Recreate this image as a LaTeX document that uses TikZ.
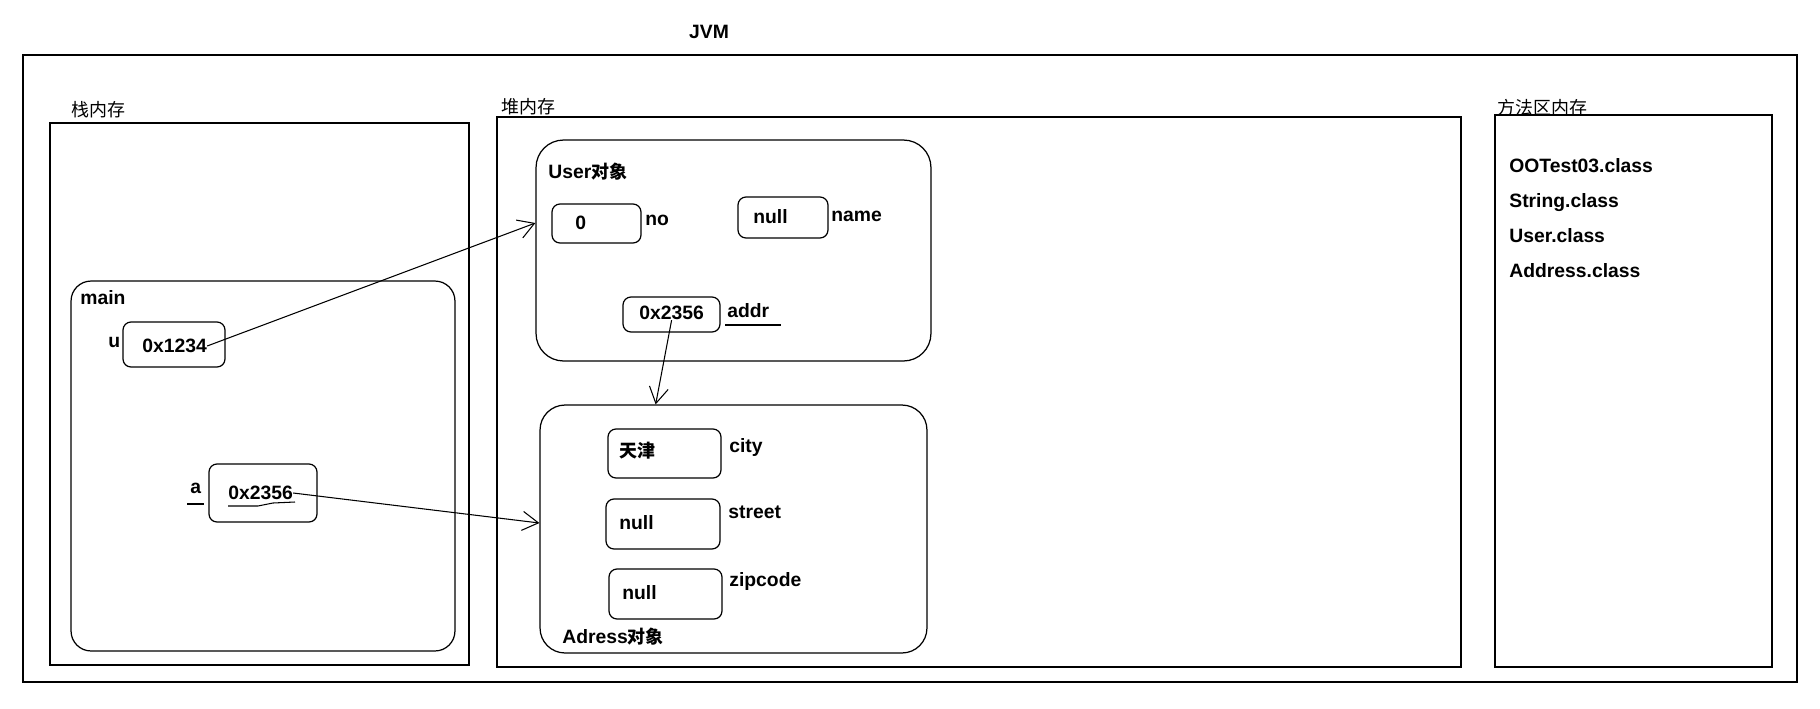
\documentclass[tikz,border=0pt]{standalone}
\usepackage{fontspec}
\setmainfont{Liberation Sans}
\newfontfamily\cjk{Noto Sans CJK SC}[Scale=0.93]
\usetikzlibrary{arrows.meta}

\begin{document}
\begin{tikzpicture}[x=0.02cm,y=-0.02cm,
  area/.style={draw,line width=0.8pt,inner sep=0pt},
  obj/.style={draw,line width=0.7pt,rounded corners=0.55cm,inner sep=0pt},
  cell/.style={draw,line width=0.7pt,rounded corners=0.16cm,inner sep=0pt},
  txt/.style={font=\fontsize{11}{13}\selectfont\bfseries,inner sep=0pt,anchor=west},
  hdr/.style={font=\fontsize{11}{13}\selectfont,inner sep=0pt,anchor=west},
  ref/.style={-{Straight Barb[length=0.32cm,width=0.38cm]},line width=0.6pt}]
\useasboundingbox (0,0) rectangle (1820,708);
% memory areas
\node[area,minimum width=35.48cm,minimum height=12.54cm] (jvm) at (910,368.5) {};
\node[txt,anchor=center] (jvmlbl) at (709,32) {JVM};
\node[area,minimum width=8.38cm,minimum height=10.84cm] (stack) at (259.5,394) {};
\node[hdr] (stacklbl) at (71,110) {\cjk 栈内存};
\node[area,minimum width=19.28cm,minimum height=11cm] (heap) at (979,392) {};
\node[hdr] (heaplbl) at (501,107) {\cjk 堆内存};
\node[area,minimum width=5.54cm,minimum height=11.04cm] (method) at (1633.5,391) {};
\node[hdr] (methodlbl) at (1497,108) {\cjk 方法区内存};
\foreach \cls [count=\i] in {OOTest03,String,User,Address}
  \node[txt,anchor=base west] (cls\i) at (1509,137+35*\i) {\cls.class};
% stack frame
\node[obj,rounded corners=0.4cm,minimum width=7.68cm,minimum height=7.4cm] (main) at (263,466) {};
\node[txt] (mainlbl) at (80,298) {main};
\node[cell,minimum width=2.04cm,minimum height=0.9cm] (ubox) at (174,344.5) {};
\node[txt] (uval) at (142,346) {0x1234};
\node[txt] (ulbl) at (108,342) {u};
\node[cell,minimum width=2.16cm,minimum height=1.16cm] (abox) at (263,493) {};
\node[txt] (aval) at (228,493) {0x2356};
\node[txt] (albl) at (190,488) {a};
\draw[line width=0.6pt] (187,504) -- (204,504);
\draw[line width=0.6pt] (228,506) -- (258,506) -- (273,503) -- (295,502);
% User object
\node[obj,minimum width=7.9cm,minimum height=4.42cm] (user) at (733.5,250.5) {};
\node[txt] (userlbl) at (548,172) {User{\cjk 对象}};
\node[cell,minimum width=1.78cm,minimum height=0.78cm] (nobox) at (596.5,223.5) {};
\node[txt] (noval) at (575,223) {0};
\node[txt] (nolbl) at (645,220) {no};
\node[cell,minimum width=1.8cm,minimum height=0.82cm] (namebox) at (783,217.5) {};
\node[txt] (nameval) at (753,217) {null};
\node[txt] (namelbl) at (831,216) {name};
\node[cell,minimum width=1.94cm,minimum height=0.7cm] (addrbox) at (671.5,314.5) {};
\node[txt] (addrval) at (639,313) {0x2356};
\node[txt] (addrlbl) at (727,311) {addr};
\draw[line width=0.6pt] (725,325) -- (781,325);
% Address object
\node[obj,rounded corners=0.5cm,minimum width=7.74cm,minimum height=4.96cm] (adress) at (733.5,529) {};
\node[txt] (adresslbl) at (562,637) {Adress{\cjk 对象}};
\node[cell,minimum width=2.26cm,minimum height=0.98cm] (citybox) at (664.5,453.5) {};
\node[txt] (cityval) at (619,451) {\cjk 天津};
\node[txt] (citylbl) at (729,447) {city};
\node[cell,minimum width=2.28cm,minimum height=1cm] (streetbox) at (663,524) {};
\node[txt] (streetval) at (619,523) {null};
\node[txt] (streetlbl) at (728,512) {street};
\node[cell,minimum width=2.26cm,minimum height=1cm] (zipbox) at (665.5,594) {};
\node[txt] (zipval) at (622,593) {null};
\node[txt] (ziplbl) at (729,581) {zipcode};
% references
\draw[ref] (uval.east) -- (user.west |- noval);
\draw[ref] (aval.east) -- (adress.west |- streetval);
\draw[ref] (addrval.south) -- (adress.north -| cityval.east);
\end{tikzpicture}
\end{document}
